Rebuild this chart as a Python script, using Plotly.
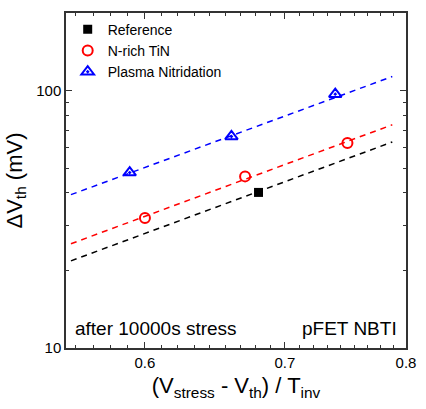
import plotly.graph_objects as go
import numpy as np

# Data
ref_x = [0.68]
ref_y = [40.2]
tin_x = [0.60, 0.670, 0.750]
tin_y = [32.0, 46.4, 62.5]
pn_x = [0.590, 0.660, 0.740]
pn_y = [48.0, 66.3, 96.8]

fit_x = [0.553, 0.788]
ref_fit_y = [21.8, 63.1]
tin_fit_y = [25.4, 73.6]
pn_fit_y = [39.4, 113.3]

x_tick_vals = [0.6, 0.7, 0.8]
x_tick_text = ["0.6", "0.7", "0.8"]
x_minor = [0.5 + k / 90 for k in range(5, 28) if k % 9 != 0]
y_tick_vals = [10, 100]
y_tick_text = ["10", "100"]
y_minor = [20, 30, 40, 50, 60, 70, 80, 90]

FONT = "Liberation Sans, Arial, sans-serif"
dash = "6px,5px"

fig = go.Figure()
for fx, fy, col in [(fit_x, ref_fit_y, "black"), (fit_x, tin_fit_y, "red"), (fit_x, pn_fit_y, "blue")]:
    fig.add_trace(go.Scatter(x=fx, y=fy, mode="lines", showlegend=False,
                             line=dict(color=col, width=1.5, dash=dash), hoverinfo="skip"))

fig.add_trace(go.Scatter(x=ref_x, y=ref_y, mode="markers", name="Reference",
                         marker=dict(symbol="square", size=9, color="black")))
fig.add_trace(go.Scatter(x=tin_x, y=tin_y, mode="markers", name="N-rich TiN",
                         marker=dict(symbol="circle-open", size=10, color="red", line=dict(width=2))))
fig.add_trace(go.Scatter(x=pn_x, y=pn_y, mode="markers", name="Plasma Nitridation",
                         marker=dict(symbol="triangle-up-open-dot", size=11, color="blue", line=dict(width=2))))

axis_common = dict(showgrid=False, zeroline=False, showline=True, linecolor="#333", linewidth=1.5,
                   mirror="ticks", ticks="inside", ticklen=6, tickwidth=1.2, tickcolor="#333",
                   tickfont=dict(family=FONT, size=15, color="black"))

fig.update_xaxes(type="log", range=[np.log10(0.55), np.log10(0.8)],
                 tickmode="array", tickvals=x_tick_vals, ticktext=x_tick_text,
                 minor=dict(tickmode="array", tickvals=x_minor, ticks="inside", ticklen=3,
                            tickwidth=1, tickcolor="#333"),
                 title=dict(text="(V<sub>stress</sub> - V<sub>th</sub>) / T<sub>inv</sub>",
                            font=dict(family=FONT, size=22, color="black"), standoff=8),
                 **axis_common)
fig.update_yaxes(type="log", range=[1, np.log10(200)],
                 tickmode="array", tickvals=y_tick_vals, ticktext=y_tick_text,
                 minor=dict(tickmode="array", tickvals=y_minor, ticks="inside", ticklen=3,
                            tickwidth=1, tickcolor="#333"),
                 title=dict(text="ΔV<sub>th</sub> (mV)",
                            font=dict(family=FONT, size=22, color="black"), standoff=8),
                 **axis_common)

fig.add_annotation(x=0.02, y=0.02, xref="paper", yref="paper", xanchor="left", yanchor="bottom",
                   text="after 10000s stress", showarrow=False,
                   font=dict(family=FONT, size=19, color="black"))
fig.add_annotation(x=0.98, y=0.02, xref="paper", yref="paper", xanchor="right", yanchor="bottom",
                   text="pFET NBTI", showarrow=False,
                   font=dict(family=FONT, size=19, color="black"))

fig.update_layout(width=426, height=409, margin=dict(l=66, r=10, t=13, b=61),
                  plot_bgcolor="white", paper_bgcolor="white",
                  legend=dict(x=0.005, y=0.998, xanchor="left", yanchor="top",
                              bgcolor="rgba(0,0,0,0)", font=dict(family=FONT, size=14, color="black"),
                              tracegroupgap=0, itemwidth=30))

fig.write_html("out.html")
